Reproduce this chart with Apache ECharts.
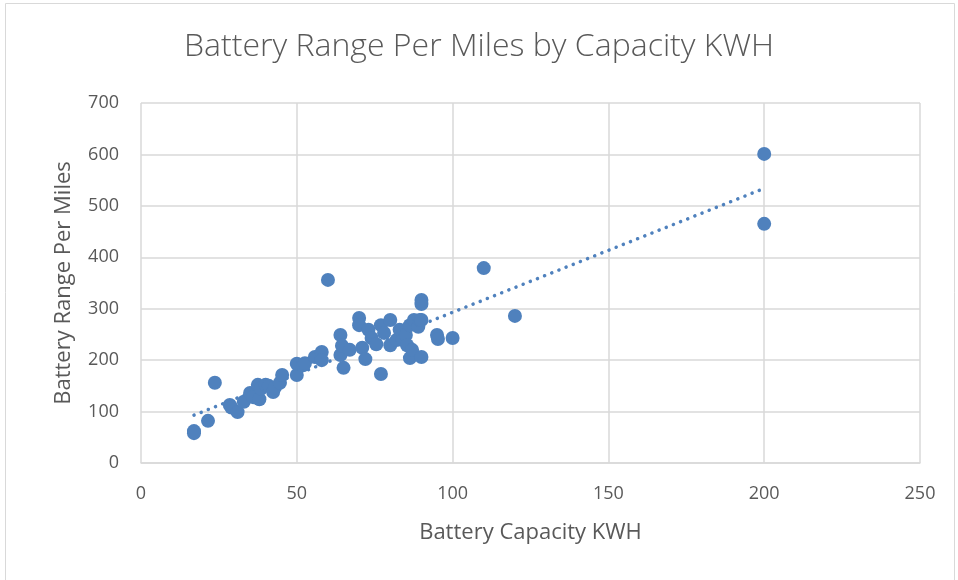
<!DOCTYPE html>
<html>
<head>
<meta charset="utf-8">
<script src="https://cdn.jsdelivr.net/npm/echarts@6/dist/echarts.min.js"></script>
<style>
  html, body { margin: 0; padding: 0; background: #fff; }
  #chart { width: 958px; height: 580px; }
</style>
</head>
<body>
<div id="chart"></div>
<script>
const pointColor = "#4f81bd";
const textColor = "#595959";
const gridColor = "#d9d9d9";

const capacityKwh = [
  17, 17, 21.5, 23.7, 28.5, 29, 31, 33, 35, 36, 37.5, 38, 38.5, 40, 41, 42.4, 43, 44.6, 45.3,
  50, 50, 52, 52.6, 55.8, 58, 58, 60, 64, 64, 64.5, 65, 67, 70, 70, 71, 72, 73, 74, 75.5,
  77, 77, 78, 80, 80, 82, 83, 84, 85, 85.4, 86.3, 86.3, 87, 87.6, 89, 89.5, 90, 90, 90, 90,
  95, 95.3, 100, 110, 120, 200, 200,
];
const rangeMiles = [
  62, 58, 82, 156, 113, 108, 99, 119, 136, 128, 152, 124, 145, 152, 150, 138, 147, 156, 171,
  171, 193, 190, 194, 206, 216, 200, 356, 249, 210, 228, 185, 220, 282, 268, 224, 202, 259, 243, 231,
  173, 268, 253, 278, 229, 239, 259, 239, 249, 229, 268, 204, 220, 278, 265, 278, 317, 309, 278, 206,
  249, 241, 243, 379, 286, 601, 465,
];
// trendline end points
const trendX = [17, 200];
const trendY = [93, 534];

const xTicks = [0, 50, 100, 150, 200, 250];
const yTicks = [0, 100, 200, 300, 400, 500, 600, 700];

const chart = echarts.init(document.getElementById("chart"), null, { renderer: "canvas" });

chart.setOption({
  animation: false,
  title: {
    text: "Battery Range Per Miles by Capacity KWH",
    left: "center",
    top: 26,
    textStyle: { color: textColor, fontFamily: "Open Sans", fontWeight: 300, fontSize: 32 },
  },
  graphic: [
    {
      type: "rect",
      shape: { x: 5.5, y: 3.5, width: 949, height: 590 },
      style: { fill: "none", stroke: gridColor, lineWidth: 1 },
      silent: true,
    },
  ],
  grid: { left: 141, right: 38, top: 103, bottom: 117 },
  xAxis: {
    type: "value",
    min: xTicks[0],
    max: xTicks[xTicks.length - 1],
    interval: 50,
    name: "Battery Capacity KWH",
    nameLocation: "middle",
    nameGap: 59,
    nameTextStyle: { color: textColor, fontFamily: "Open Sans", fontSize: 22 },
    axisLine: { show: true, lineStyle: { color: gridColor, width: 1.5 } },
    axisTick: { show: false },
    axisLabel: { color: textColor, fontFamily: "Open Sans", fontSize: 18, margin: 22 },
    splitLine: { show: true, lineStyle: { color: gridColor, width: 1.5 } },
  },
  yAxis: {
    type: "value",
    min: yTicks[0],
    max: yTicks[yTicks.length - 1],
    interval: 100,
    name: "Battery Range Per Miles",
    nameLocation: "middle",
    nameGap: 66,
    nameTextStyle: { color: textColor, fontFamily: "Open Sans", fontSize: 22 },
    axisLine: { show: false },
    axisTick: { show: false },
    axisLabel: { color: textColor, fontFamily: "Open Sans", fontSize: 18, margin: 22 },
    splitLine: { show: true, lineStyle: { color: gridColor, width: 1.5 } },
  },
  series: [
    {
      name: "Range",
      type: "scatter",
      symbol: "circle",
      symbolSize: 14,
      itemStyle: { color: pointColor, opacity: 1 },
      data: capacityKwh.map((x, i) => [x, rangeMiles[i]]),
      z: 3,
    },
    {
      name: "Trend",
      type: "line",
      symbol: "none",
      lineStyle: { color: pointColor, width: 3.5, type: [0.1, 7.6], cap: "round" },
      data: trendX.map((x, i) => [x, trendY[i]]),
      z: 2,
    },
  ],
});
</script>
</body>
</html>
